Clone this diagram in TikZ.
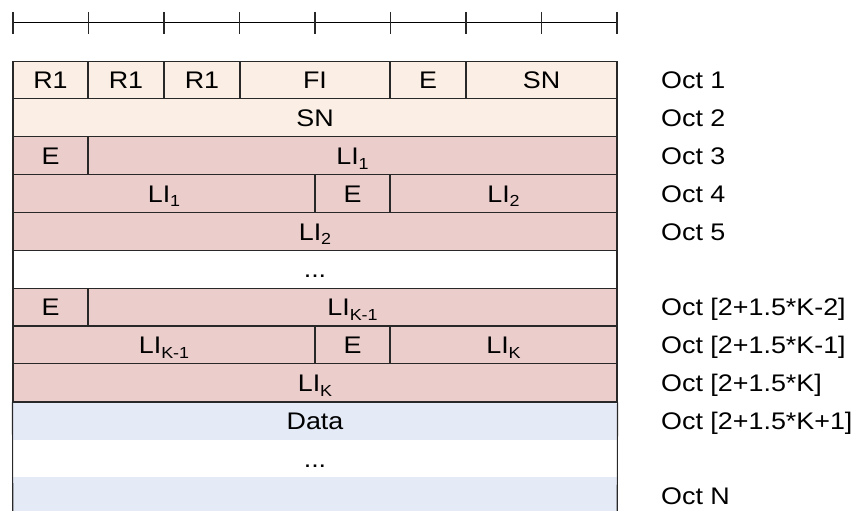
\documentclass[tikz,border=0pt]{standalone}
\usepackage{fontspec}
\setmainfont[FakeStretch=1.12]{Liberation Sans}
\definecolor{peach}{RGB}{251,238,228}
\definecolor{rose}{RGB}{235,205,204}
\definecolor{paleblue}{RGB}{229,235,246}
\definecolor{edge}{RGB}{40,40,40}
\newcommand{\sbs}[1]{\raisebox{-0.2em}{\fontsize{16}{16}\selectfont #1}}
\begin{document}
\begin{tikzpicture}[x=1pt,y=-1pt,
  txt/.style={font=\fontsize{24}{24}\selectfont, text=black, text height=17.2pt, text depth=0pt},
  cell/.style={txt, draw=edge, line width=1.1pt, rectangle, inner sep=0pt, minimum height=37.85pt},
  pc/.style={cell, fill=peach},
  rc/.style={cell, fill=rose},
  wc/.style={cell, fill=white},
  bc/.style={txt, rectangle, inner sep=0pt, minimum height=37.85pt, minimum width=604pt},
  oct/.style={txt, anchor=west, inner sep=0pt},
  tick/.style={line width=1.6pt, draw=edge},
  rule/.style={line width=1pt, draw=black}]
\useasboundingbox (0,0) rectangle (852,511);
\clip (0,0) rectangle (852,511);
% ruler
\foreach \i in {0,...,8} {
  \coordinate (t\i) at ({13+75.5*\i},23);
  \coordinate (tu\i) at ({13+75.5*\i},12);
  \coordinate (td\i) at ({13+75.5*\i},34);
}
\draw[rule] (t0) -- (t8);
\foreach \i in {0,...,8} { \draw[tick] (tu\i) -- (td\i); }
% row 1
\node[pc, minimum width=75pt]  (a1) at (50.5,80.0) {R1};
\node[pc, minimum width=76pt]  (a2) at (126,80.0) {R1};
\node[pc, minimum width=76pt]  (a3) at (202,80.0) {R1};
\node[pc, minimum width=150pt] (a4) at (315,80.0) {FI};
\node[pc, minimum width=76pt]  (a5) at (428,80.0) {E};
\node[pc, minimum width=151pt] (a6) at (541.5,80.0) {SN};
% row 2
\node[pc, minimum width=604pt] (b1) at (315,117.8) {SN};
% row 3
\node[rc, minimum width=75pt]  (c1) at (50.5,155.6) {E};
\node[rc, minimum width=529pt] (c2) at (352.5,155.6) {LI\sbs{1}};
% row 4
\node[rc, minimum width=302pt] (d1) at (164,193.5) {LI\sbs{1}};
\node[rc, minimum width=75pt]  (d2) at (352.5,193.5) {E};
\node[rc, minimum width=227pt] (d3) at (503.5,193.5) {LI\sbs{2}};
% row 5
\node[rc, minimum width=604pt] (e1) at (315,231.4) {LI\sbs{2}};
% row 6
\node[wc, minimum width=604pt] (f1) at (315,269.2) {...};
% row 7
\node[rc, minimum width=75pt]  (g1) at (50.5,307.1) {E};
\node[rc, minimum width=529pt] (g2) at (352.5,307.1) {LI\sbs{K-1}};
% row 8
\node[rc, minimum width=302pt] (h1) at (164,344.9) {LI\sbs{K-1}};
\node[rc, minimum width=75pt]  (h2) at (352.5,344.9) {E};
\node[rc, minimum width=227pt] (h3) at (503.5,344.9) {LI\sbs{K}};
% row 9
\node[rc, minimum width=604pt] (i1) at (315,382.8) {LI\sbs{K}};
% rows 10-12
\node[bc, fill=paleblue] (j1) at (315,420.6) {Data};
\node[bc, fill=white]    (k1) at (315,458.5) {...};
\node[bc, fill=paleblue] (l1) at (315,496.3) {};
\draw[edge, line width=1.1pt] (i1.south west) -- (l1.south west);
\draw[edge, line width=1.1pt] (i1.south east) -- (l1.south east);
\draw[edge, line width=1.1pt] (i1.south west) -- (i1.south east);
% octet labels
\node[oct] (o1) at (661,80.0) {Oct 1};
\node[oct] (o2) at (661,117.8) {Oct 2};
\node[oct] (o3) at (661,155.6) {Oct 3};
\node[oct] (o4) at (661,193.5) {Oct 4};
\node[oct] (o5) at (661,231.4) {Oct 5};
\node[oct] (o7) at (661,307.1) {Oct [2+1.5*K-2]};
\node[oct] (o8) at (661,344.9) {Oct [2+1.5*K-1]};
\node[oct] (o9) at (661,382.8) {Oct [2+1.5*K]};
\node[oct] (o10) at (661,420.6) {Oct [2+1.5*K+1]};
\node[oct] (oN) at (661,496.3) {Oct N};
\end{tikzpicture}
\end{document}
